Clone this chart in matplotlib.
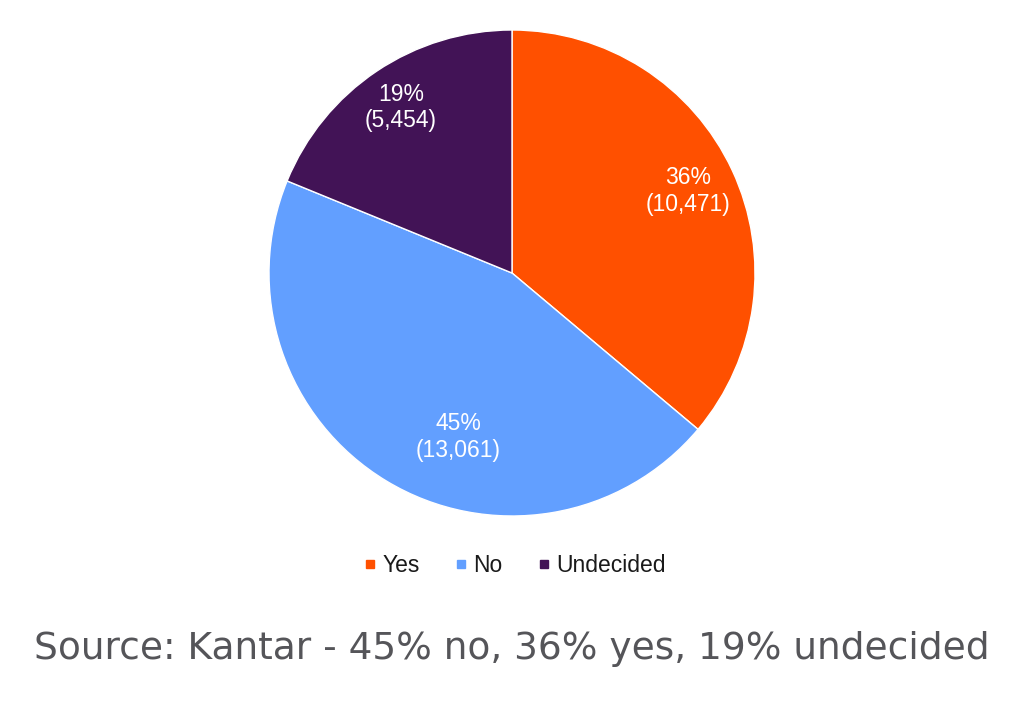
import numpy as np
import matplotlib.pyplot as plt
from matplotlib.lines import Line2D

# data
labels = ["Yes", "No", "Undecided"]
counts = [10471, 13061, 5454]
colors = ["#FF5000", "#629FFF", "#421356"]

# label placement: radial distance and angle shift (deg) from slice middle
label_dist = [0.80, 0.71, 0.82]
label_shift = [0, 13, 0]

total = sum(counts)

fig = plt.figure(figsize=(10.24, 7.11), dpi=100)
fig.patch.set_facecolor("white")

# pie placed in pixel terms: center (512, 273), radius 243
cx, cy, r = 512, 273, 243
ax = fig.add_axes([(cx - r) / 1024, (711 - cy - r) / 711, 2 * r / 1024, 2 * r / 711])
wedges, _ = ax.pie(counts, colors=colors, startangle=90, counterclock=False,
                   wedgeprops=dict(linewidth=1, edgecolor="white"))
ax.set_xlim(-1, 1)
ax.set_ylim(-1, 1)
ax.set_aspect("auto")
ax.axis("off")

# slice labels
for w, c, d, s in zip(wedges, counts, label_dist, label_shift):
    ang = np.deg2rad((w.theta1 + w.theta2) / 2 + s)
    pct = round(c / total * 100)
    ax.text(d * np.cos(ang), d * np.sin(ang), f"{pct}%\n({c:,})",
            ha="center", va="center", color="white", fontsize=16.5,
            family="Liberation Sans", linespacing=1.2)

# legend
handles = [Line2D([], [], marker="s", linestyle="none", markersize=6,
                  markerfacecolor=col, markeredgecolor=col) for col in colors]
fig.legend(handles, labels, loc="center", bbox_to_anchor=(0.5, 1 - 566 / 711),
           ncol=3, frameon=False, handletextpad=0.05, columnspacing=1.3,
           handlelength=1.0, prop=dict(family="Liberation Sans", size=16.5),
           labelcolor="#1a1a1a")

# caption
fig.text(0.5, 1 - 649 / 711, "Source: Kantar - 45% no, 36% yes, 19% undecided",
         ha="center", va="center", fontsize=27, color="#555559",
         family="DejaVu Sans")

fig.savefig("out.png", dpi=100)
